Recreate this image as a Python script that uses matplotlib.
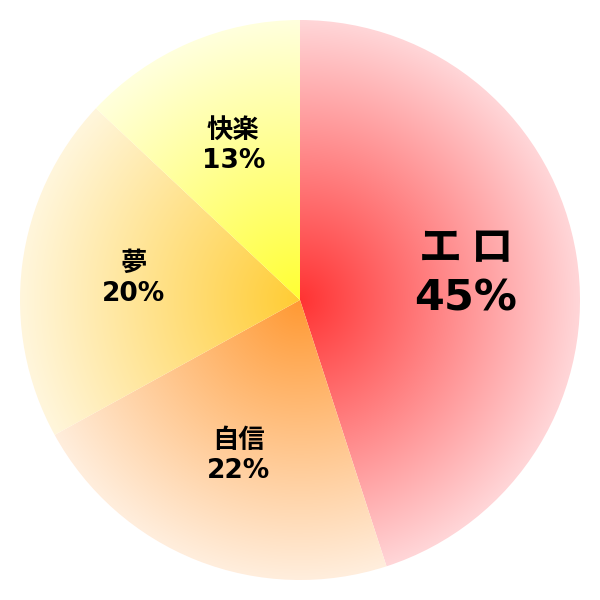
import numpy as np
import matplotlib.pyplot as plt
from matplotlib.colors import to_rgb

labels = ['エ\u2009ロ', '自信', '夢', '快楽']
values = [45, 22, 20, 13]

# radial gradient: colour at the centre, colour at the rim
inner_colors = ['#ff3333', '#ff9933', '#ffcc33', '#ffff33']
outer_colors = ['#ffd6d8', '#ffeedd', '#fff6dc', '#ffffdd']

plt.rcParams['font.family'] = ['DejaVu Sans', 'Noto Sans CJK JP']

fig = plt.figure(figsize=(6, 6), dpi=100)
ax = fig.add_axes([0, 0, 1, 1])

texts_in = ['{}\n{}%'.format(l, v) for l, v in zip(labels, values)]
wedges, texts = ax.pie(values, labels=texts_in, startangle=90, counterclock=False,
                       labeldistance=0.6,
                       wedgeprops=dict(facecolor='none', linewidth=0))

# radius grid for the gradient
n = 600
xs = np.linspace(-1, 1, n)
X, Y = np.meshgrid(xs, xs)
R = np.clip(np.sqrt(X**2 + Y**2), 0, 1)[..., None]

for w, c0, c1 in zip(wedges, inner_colors, outer_colors):
    c0 = np.array(to_rgb(c0))
    c1 = np.array(to_rgb(c1))
    img = c0 + (c1 - c0) * R
    im = ax.imshow(img, extent=(-1, 1, -1, 1), origin='lower',
                   interpolation='bilinear', zorder=0)
    im.set_clip_path(w)

for i, t in enumerate(texts):
    t.set_ha('center')
    t.set_va('center')
    t.set_fontweight('bold')
    t.set_linespacing(1.2)
    t.set_fontsize(31 if i == 0 else 19)

lim = 300 / 280
ax.set_xlim(-lim, lim)
ax.set_ylim(-lim, lim)
ax.set_aspect('equal')
ax.axis('off')

fig.savefig('out.png', dpi=100)
